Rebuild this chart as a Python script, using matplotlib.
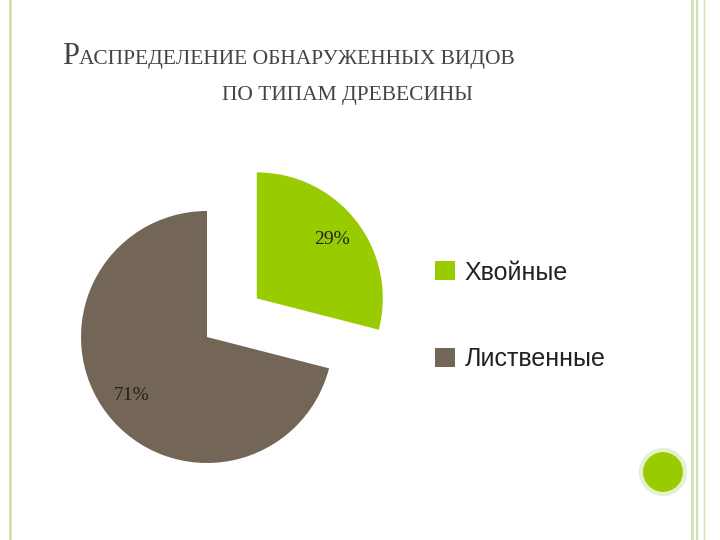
import matplotlib
matplotlib.use("Agg")
import matplotlib.pyplot as plt
from matplotlib.patches import Circle

labels = ["Хвойные", "Лиственные"]
shares = [29, 71]
colors = ["#99cc00", "#736657"]

fig = plt.figure(figsize=(7.2, 5.4), dpi=100)
ax = fig.add_axes([0, 0, 1, 1])

radius = 126
res = ax.pie(shares, colors=colors, startangle=90, counterclock=False,
             explode=[0.5 * radius, 0], center=(207, 203), radius=radius,
             autopct="%d%%", pctdistance=0.76,
             textprops=dict(family="Liberation Serif", fontsize=14, color="#222222"),
             wedgeprops=dict(linewidth=0))
wedges = res[0]
ax.set_xlim(0, 720)
ax.set_ylim(0, 540)
ax.set_aspect("equal")
ax.axis("off")

# slide decorations
for x, w in [(10, 2), (692, 2), (697, 1.5), (704, 1)]:
    ax.plot([x, x], [0, 540], color="#cfe3b0", lw=w)
ax.add_patch(Circle((663, 68), 22, color="#99cc00", ec="#e5f0d0", lw=3))

# title in small caps
serif = "Liberation Serif"
t1 = fig.text(62 / 720, 1 - 64 / 540, "Р", family=serif, fontsize=22, color="#444444")
fig.canvas.draw()
bb = t1.get_window_extent()
fig.text(bb.x1 / 720, 1 - 64 / 540, "АСПРЕДЕЛЕНИЕ ОБНАРУЖЕННЫХ ВИДОВ",
         family=serif, fontsize=15.5, color="#444444")
fig.text(347 / 720, 1 - 100 / 540, "ПО ТИПАМ ДРЕВЕСИНЫ", family=serif,
         fontsize=15.5, color="#444444", ha="center")

leg = fig.legend(wedges, labels, loc="upper left", bbox_to_anchor=(412 / 720, 1 - 238 / 540),
                 frameon=False, handlelength=0.8, handleheight=0.8, handletextpad=0.4,
                 labelspacing=2.5, prop=dict(family="Liberation Sans", size=18))
for t in leg.get_texts():
    t.set_color("#222222")

fig.savefig("out.png", dpi=100)
